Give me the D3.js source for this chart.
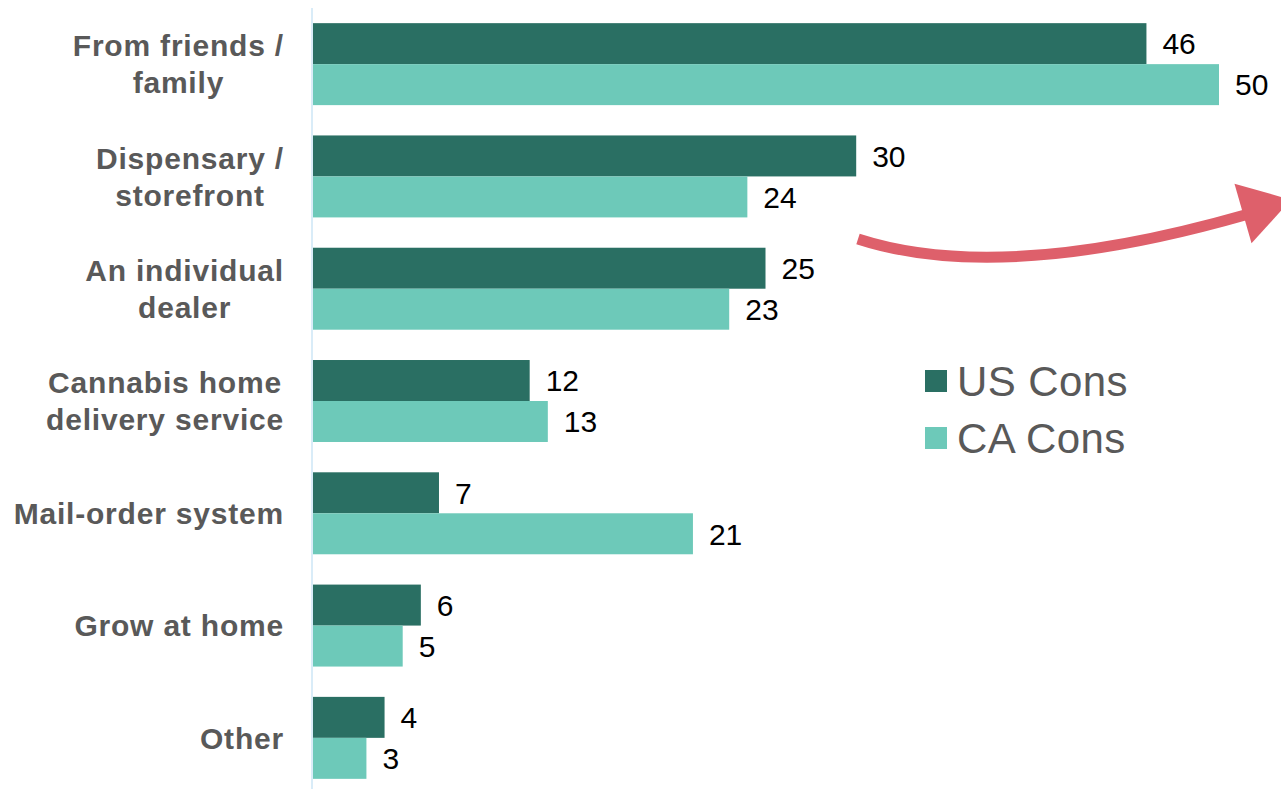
<!DOCTYPE html>
<html>
<head>
<meta charset="utf-8">
<script src="https://cdn.jsdelivr.net/npm/d3@7/dist/d3.min.js"></script>
<style>
  html, body { margin: 0; padding: 0; background: #fff; }
  svg { display: block; font-family: "Liberation Sans", Arial, sans-serif; }
</style>
</head>
<body>
<svg id="chart" width="1281" height="789"></svg>
<script>
// Where consumers get their cannabis (% of respondents)
const categories = [
  ["From friends /", "family"],
  ["Dispensary /", "storefront"],
  ["An individual", "dealer"],
  ["Cannabis home", "delivery service"],
  ["Mail-order system"],
  ["Grow at home"],
  ["Other"]
];
const seriesNames = ["US Cons", "CA Cons"];
const usValues = [46, 30, 25, 12, 7, 6, 4];
const caValues = [50, 24, 23, 13, 21, 5, 3];
const colors = ["#2a6f63", "#6dc9b9"];

const svg = d3.select("#chart");
const left = 312;
const labelRight = 284;
const keys = categories.map(c => c.join(" "));

const x = d3.scaleLinear().domain([0, 50]).range([left, 1219]);
const y = d3.scaleBand().domain(keys).range([8, 794]).paddingInner(0.27).paddingOuter(0.135);
const sub = d3.scaleBand().domain(seriesNames).range([0, y.bandwidth()]);

// vertical baseline
svg.append("line")
  .attr("x1", left).attr("x2", left)
  .attr("y1", 8).attr("y2", 789)
  .attr("stroke", "#d9ecf8").attr("stroke-width", 2);

const rows = keys.map((k, i) => ({ key: k, lines: categories[i], vals: [usValues[i], caValues[i]] }));

const g = svg.selectAll("g.row").data(rows).join("g")
  .attr("class", "row")
  .attr("transform", d => `translate(0,${y(d.key)})`);

g.selectAll("rect").data(d => d.vals.map((v, j) => ({ v, s: seriesNames[j], j }))).join("rect")
  .attr("x", x(0) + 1)
  .attr("y", d => sub(d.s))
  .attr("width", d => x(d.v) - x(0) - 1)
  .attr("height", sub.bandwidth())
  .attr("fill", d => colors[d.j]);

g.selectAll("text.val").data(d => d.vals.map((v, j) => ({ v, s: seriesNames[j] }))).join("text")
  .attr("class", "val")
  .attr("x", d => x(d.v) + 16)
  .attr("y", d => sub(d.s) + sub.bandwidth() / 2)
  .attr("dy", "0.36em")
  .attr("font-size", 30)
  .attr("fill", "#000")
  .text(d => d.v);

// category labels: block right-aligned to the axis, lines centred within the block
g.each(function(d) {
  const t = d3.select(this).append("text")
    .attr("text-anchor", "middle")
    .attr("font-size", 30)
    .attr("letter-spacing", "0.8px")
    .attr("font-weight", "bold")
    .attr("fill", "#595959");
  const n = d.lines.length;
  const lh = 37;
  const spans = d.lines.map((ln, i) => t.append("tspan")
    .attr("y", y.bandwidth() / 2 + (i - (n - 1) / 2) * lh)
    .attr("dy", "0.36em")
    .text(ln));
  const maxW = d3.max(spans, s => s.node().getComputedTextLength());
  spans.forEach(s => s.attr("x", labelRight - maxW / 2));
});

// legend
const legend = svg.append("g").attr("transform", "translate(925,370)");
seriesNames.forEach((s, i) => {
  legend.append("rect")
    .attr("x", 0).attr("y", i * 57)
    .attr("width", 22).attr("height", 22)
    .attr("fill", colors[i]);
  legend.append("text")
    .attr("x", 32).attr("y", i * 57 + 11)
    .attr("dy", "0.36em")
    .attr("font-size", 42)
    .attr("letter-spacing", "0.4px")
    .attr("fill", "#595959")
    .text(s);
});

// curved arrow
const p0 = [858, 239], c = [1000, 285], p1 = [1245, 215];
svg.append("path")
  .attr("d", `M${p0[0]},${p0[1]} Q${c[0]},${c[1]} ${p1[0]},${p1[1]}`)
  .attr("fill", "none")
  .attr("stroke", "#de606b")
  .attr("stroke-width", 11);
const dx = p1[0] - c[0], dy = p1[1] - c[1];
const len = Math.hypot(dx, dy);
const ux = dx / len, uy = dy / len;
const bx = 1243, by = 213.5, hw = 31, hl = 50;
svg.append("path")
  .attr("d", `M${bx - uy * hw},${by + ux * hw} L${bx + uy * hw},${by - ux * hw} L${bx + ux * hl},${by + uy * hl} Z`)
  .attr("fill", "#de606b");
</script>
</body>
</html>
